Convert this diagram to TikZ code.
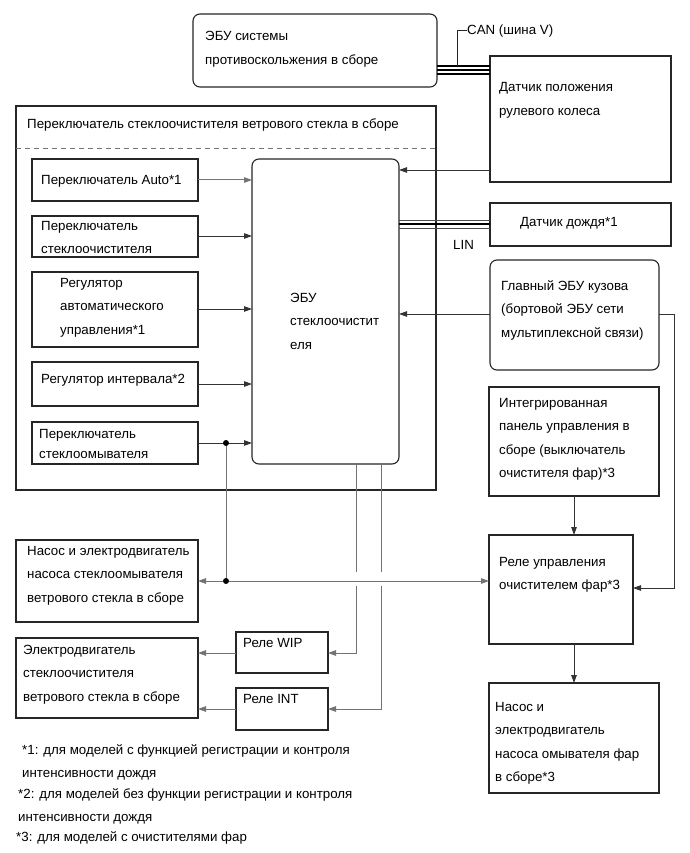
\documentclass[tikz,border=0pt]{standalone}
\usepackage{fontspec}
\setmainfont{Liberation Sans}
\usetikzlibrary{arrows.meta}
\newcommand\mkbox[6][]{\node[box,#1,anchor=north west,minimum width={(#5-#3)*1pt},minimum height={(#6-#4)*1pt}] (#2) at (#3,#4) {};}
\begin{document}
\begin{tikzpicture}[x=1pt,y=-1pt,
  box/.style={draw=black!85,line width=1.1pt,inner sep=0pt,outer sep=0pt},
  rbox/.style={box,rounded corners=7pt},
  txt/.style={anchor=base west,inner sep=0pt,align=left,font=\fontsize{13.3}{23.5}\selectfont},
  conn/.style={draw=black!80,line width=0.9pt,-{Triangle[length=8pt,width=5.5pt]}},
  gconn/.style={draw=black!55,line width=1pt,-{Triangle[length=8pt,width=5.5pt]}},
  gline/.style={draw=black!55,line width=1pt},
  bus/.style={draw=black,line width=1.1pt},
  dot/.style={circle,fill=black,inner sep=0pt,minimum size=6pt}]
\useasboundingbox[fill=white] (0,0) rectangle (689,853);
% boxes
\mkbox[rbox]{abs}{193}{14}{437}{87}
\mkbox{steer}{490}{56}{671}{182}
\mkbox{outer}{16}{106}{436}{490}
\mkbox[rbox]{ecu}{252}{159}{399}{464}
\mkbox{auto}{32}{159}{198}{201}
\mkbox{wsw}{32}{216}{198}{257}
\mkbox{reg}{32}{272}{198}{347}
\mkbox{intv}{32}{362}{198}{406}
\mkbox{wash}{32}{422}{198}{464}
\mkbox{rain}{490}{203}{671}{246}
\mkbox[rbox]{body}{490}{260}{659}{370}
\mkbox{panel}{489}{387}{659}{496}
\mkbox{hlrel}{489}{535}{633}{644}
\mkbox{hlpump}{489}{683}{659}{793}
\mkbox{wpump}{16}{540}{198}{622}
\mkbox{wip}{236}{632}{328}{673}
\mkbox{intr}{236}{688}{328}{730}
\mkbox{wmot}{16}{638}{198}{718}
% dashed separator
\coordinate (dl) at (16,148);
\coordinate (dr) at (436,148);
\draw[dashed,draw=black!55,line width=0.9pt,dash pattern=on 5pt off 4pt] (dl) -- (dr);
% texts (multi-line nodes are placed by the baseline of their last line)
\node[txt] (t1) at (205,64.5) {ЭБУ системы\\противоскольжения в сборе};
\node[txt] (t2) at (499,115.5) {Датчик положения\\рулевого колеса};
\node[txt] (t3) at (27,129) {Переключатель стеклоочистителя ветрового стекла в сборе};
\node[txt] (t4) at (41,184.5) {Переключатель Auto*1};
\node[txt] (t5) at (41,253.5) {Переключатель\\стеклоочистителя};
\node[txt] (t6) at (60,334) {Регулятор\\автоматического\\управления*1};
\node[txt] (t7) at (41,383.5) {Регулятор интервала*2};
\node[txt] (t8) at (39,458.5) {Переключатель\\[-3.5pt]стеклоомывателя};
\node[txt] (t9) at (290,349) {ЭБУ\\стеклоочистит\\еля};
\node[txt] (t10) at (520,226.5) {Датчик дождя*1};
\node[txt] (t11) at (501,337) {Главный ЭБУ кузова\\(бортовой ЭБУ сети\\мультиплексной связи)};
\node[txt] (t12) at (499,477.5) {Интегрированная\\панель управления в\\сборе (выключатель\\очистителя фар)*3};
\node[txt] (t13) at (499,589.5) {Реле управления\\очистителем фар*3};
\node[txt] (t14) at (495,781.5) {Насос и\\электродвигатель\\насоса омывателя фар\\в сборе*3};
\node[txt] (t15) at (27,602) {Насос и электродвигатель\\насоса стеклоомывателя\\ветрового стекла в сборе};
\node[txt] (t16) at (243,647.5) {Реле WIP};
\node[txt] (t17) at (243,703.5) {Реле INT};
\node[txt] (t18) at (23,701) {Электродвигатель\\стеклоочистителя\\ветрового стекла в сборе};
\node[txt] (t19) at (467,34.5) {CAN (шина V)};
\node[txt] (t20) at (453,249.5) {LIN};
\node[txt] (f1) at (22,777.5) {*1: для моделей с функцией регистрации и контроля\\интенсивности дождя};
\node[txt] (f2) at (18,821.5) {*2: для моделей без функции регистрации и контроля\\интенсивности дождя};
\node[txt] (f3) at (16,841.5) {*3: для моделей с очистителями фар};
% CAN bus
\foreach \yy in {66,70,74} \draw[bus] (abs.east |- 0,\yy) -- (steer.west |- 0,\yy);
\coordinate (cant) at (457,66);
\draw[draw=black!85,line width=0.9pt] (cant) -- (457,30) -- (t19.west |- 0,30);
% LIN bus
\draw[bus,line width=0.8pt,draw=black!70] (ecu.east |- 0,220) -- (rain.west |- 0,220);
\draw[bus,line width=2pt] (ecu.east |- 0,224) -- (rain.west |- 0,224);
\draw[bus,line width=0.8pt,draw=black!70] (ecu.east |- 0,228) -- (rain.west |- 0,228);
% inputs to ECU
\draw[gconn] (auto.east |- 0,180) -- (ecu.west |- 0,180);
\draw[conn] (wsw.east |- 0,236) -- (ecu.west |- 0,236);
\draw[conn] (reg.east |- 0,309) -- (ecu.west |- 0,309);
\draw[conn] (intv.east |- 0,384) -- (ecu.west |- 0,384);
\draw[conn] (wash.east |- 0,443) -- (ecu.west |- 0,443);
\draw[conn] (steer.west |- 0,170) -- (ecu.east |- 0,170);
\draw[conn] (body.west |- 0,314) -- (ecu.east |- 0,314);
% body ECU to headlight relay
\draw[conn] (body.east |- 0,314) -- (674,314) -- (674,588) -- (hlrel.east |- 0,588);
% panel -> relay -> pump
\draw[conn] (panel.south -| 574,0) -- (hlrel.north -| 574,0);
\draw[conn] (hlrel.south -| 574,0) -- (hlpump.north -| 574,0);
% washer wiring
\node[dot] (j1) at (226,443) {};
\node[dot] (j2) at (226,581) {};
\draw[gline] (j1) -- (j2);
% ECU outputs to relays
\draw[gconn] (ecu.south -| 356,0) -- (356,653) -- (wip.east |- 0,653);
\draw[gconn] (ecu.south -| 381,0) -- (381,709) -- (intr.east |- 0,709);
\fill[white] (352,572) rectangle (360,586);
\fill[white] (377,572) rectangle (385,586);
\draw[gconn] (j2) -- (wpump.east |- j2);
\draw[gconn] (j2) -- (hlrel.west |- j2);
\draw[gconn] (wip.west |- 0,653) -- (wmot.east |- 0,653);
\draw[gconn] (intr.west |- 0,709) -- (wmot.east |- 0,709);
\end{tikzpicture}
\end{document}
